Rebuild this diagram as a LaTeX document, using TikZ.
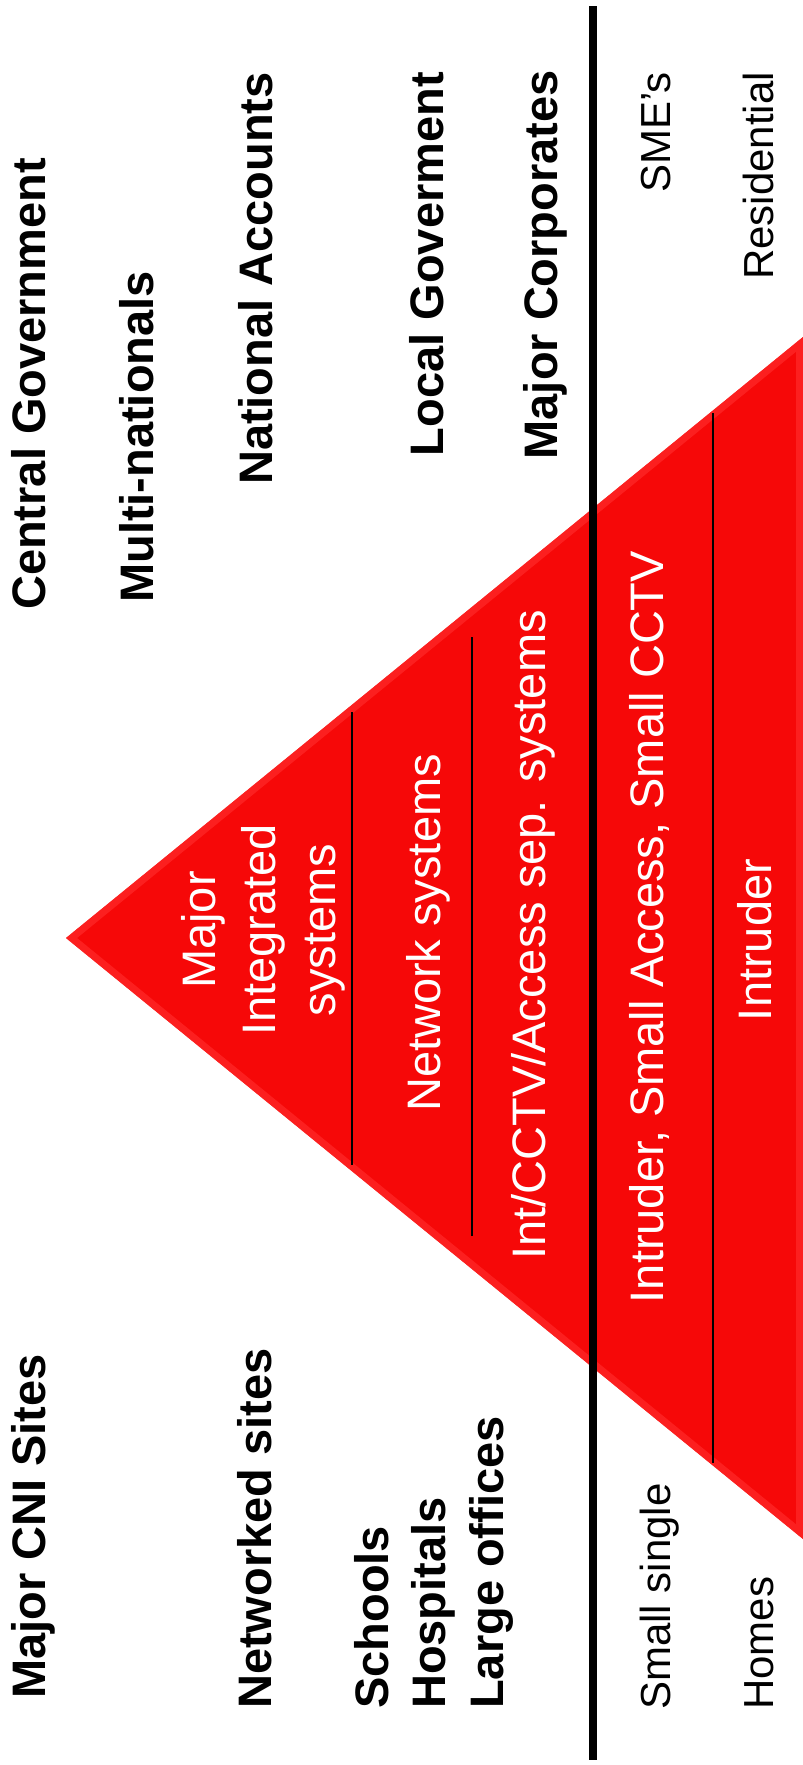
\documentclass[tikz,border=0pt]{standalone}
\usepackage{fontspec}
\setmainfont{Liberation Sans}
\definecolor{pyrred}{RGB}{246,8,8}
\definecolor{pyredge}{RGB}{255,42,42}

\begin{document}
\begin{tikzpicture}[x=1pt,y=-1pt,
  market/.style={rotate=90, inner sep=0pt, font=\bfseries\fontsize{47}{56}\selectfont},
  plain/.style={rotate=90, inner sep=0pt, font=\fontsize{42}{50}\selectfont},
  tier/.style={rotate=90, inner sep=0pt, white, align=center, font=\fontsize{47}{60}\selectfont}]
\useasboundingbox (0,0) rectangle (803,1765);

% the pyramid, lying on its side
\coordinate (apex) at (66,938);
\coordinate (topc) at (803,337);
\coordinate (botc) at (803,1539);
\fill[pyrred] (apex) -- (topc) -- (botc) -- cycle;
\begin{scope}
\clip (apex) -- (topc) -- (botc) -- cycle;
\draw[pyredge, line width=14pt, opacity=.7, line join=round] (apex) -- (topc) -- (botc) -- cycle;
\end{scope}

% tier dividers
\foreach \x/\a/\b in {352/712/1165, 472/637/1236, 713/413/1463}
    \draw[line width=1.8pt] (\x,\a) -- (\x,\b);

% business / residential split
\draw[line width=8pt] (593,6) -- (593,1760);

% tiers
\node[tier, anchor=center] (integrated) at (263,930) {Major\\Integrated\\systems};
\node[tier, anchor=base] (network) at (440,933) {Network systems};
\node[tier, anchor=base] (sepsys) at (545,935) {Int/CCTV/Access sep. systems};
\node[tier, anchor=base] (smallsys) at (663,927) {Intruder, Small Access, Small CCTV};
\node[tier, anchor=base] (intruder) at (771,940) {Intruder};

% sites
\node[market, anchor=base west] (cni) at (45,1699) {Major CNI Sites};
\node[market, anchor=base west] (networked) at (271,1709) {Networked sites};
\foreach \name/\x/\txt in {schools/388/Schools, hospitals/445/Hospitals, offices/503/Large offices}
    \node[market, anchor=base west] (\name) at (\x,1709) {\txt};
\node[plain, anchor=base west] (single) at (670,1710) {Small single};
\node[plain, anchor=base west] (homes) at (773,1710) {Homes};

% customers
\node[market, anchor=base west] (central) at (45,610) {Central Government};
\node[market, anchor=base west] (multi) at (153,603) {Multi-nationals};
\node[market, anchor=base east] (national) at (272,72) {National Accounts};
\node[market, anchor=base east] (local) at (443,72) {Local Goverment};
\node[market, anchor=base east] (corporates) at (557,70) {Major Corporates};
\node[plain, anchor=base east] (smes) at (670,72) {SME’s};
\node[plain, anchor=base east] (residential) at (773,72) {Residential};
\end{tikzpicture}
\end{document}
